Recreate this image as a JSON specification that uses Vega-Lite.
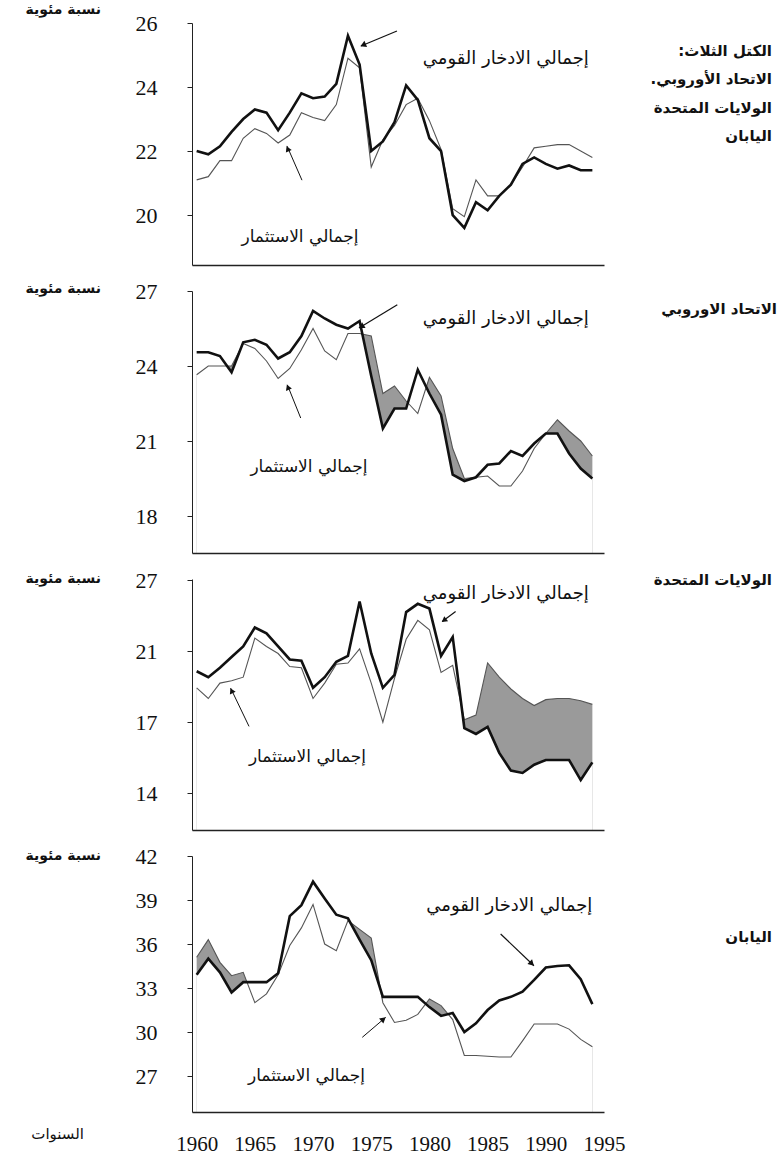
{
  "$schema": "https://vega.github.io/schema/vega-lite/v6.json",
  "background": "white",
  "padding": {"left": 25, "top": 2, "right": 0, "bottom": 0},
  "spacing": 26,
  "bounds": "flush",
  "config": {"view": {"stroke": null}, "axis": {"grid": false}},
  "datasets": {
    "triad": [
      {"year": 1960, "savings": 22.0, "investment": 21.1},
      {"year": 1961, "savings": 21.9, "investment": 21.2},
      {"year": 1962, "savings": 22.15, "investment": 21.7},
      {"year": 1963, "savings": 22.6, "investment": 21.7},
      {"year": 1964, "savings": 23.0, "investment": 22.4},
      {"year": 1965, "savings": 23.3, "investment": 22.7},
      {"year": 1966, "savings": 23.2, "investment": 22.55},
      {"year": 1967, "savings": 22.65, "investment": 22.25},
      {"year": 1968, "savings": 23.2, "investment": 22.5},
      {"year": 1969, "savings": 23.8, "investment": 23.2},
      {"year": 1970, "savings": 23.65, "investment": 23.05},
      {"year": 1971, "savings": 23.7, "investment": 22.95},
      {"year": 1972, "savings": 24.1, "investment": 23.45},
      {"year": 1973, "savings": 25.6, "investment": 24.9},
      {"year": 1974, "savings": 24.7, "investment": 24.6},
      {"year": 1975, "savings": 22.0, "investment": 21.5},
      {"year": 1976, "savings": 22.3, "investment": 22.35},
      {"year": 1977, "savings": 22.9, "investment": 22.8},
      {"year": 1978, "savings": 24.05, "investment": 23.45},
      {"year": 1979, "savings": 23.6, "investment": 23.65},
      {"year": 1980, "savings": 22.4, "investment": 22.95},
      {"year": 1981, "savings": 22.0, "investment": 22.05},
      {"year": 1982, "savings": 20.0, "investment": 20.2},
      {"year": 1983, "savings": 19.6, "investment": 19.95},
      {"year": 1984, "savings": 20.4, "investment": 21.1},
      {"year": 1985, "savings": 20.15, "investment": 20.6},
      {"year": 1986, "savings": 20.6, "investment": 20.6},
      {"year": 1987, "savings": 20.95, "investment": 20.95},
      {"year": 1988, "savings": 21.6, "investment": 21.5},
      {"year": 1989, "savings": 21.8, "investment": 22.1},
      {"year": 1990, "savings": 21.6, "investment": 22.15},
      {"year": 1991, "savings": 21.45, "investment": 22.2},
      {"year": 1992, "savings": 21.55, "investment": 22.2},
      {"year": 1993, "savings": 21.4, "investment": 22.0},
      {"year": 1994, "savings": 21.4, "investment": 21.8}
    ],
    "eu": [
      {"year": 1960, "savings": 24.55, "investment": 23.65},
      {"year": 1961, "savings": 24.55, "investment": 24.0},
      {"year": 1962, "savings": 24.4, "investment": 24.0},
      {"year": 1963, "savings": 23.75, "investment": 24.0},
      {"year": 1964, "savings": 24.95, "investment": 24.9},
      {"year": 1965, "savings": 25.05, "investment": 24.7},
      {"year": 1966, "savings": 24.85, "investment": 24.2},
      {"year": 1967, "savings": 24.3, "investment": 23.5},
      {"year": 1968, "savings": 24.55, "investment": 23.9},
      {"year": 1969, "savings": 25.2, "investment": 24.65},
      {"year": 1970, "savings": 26.2, "investment": 25.5},
      {"year": 1971, "savings": 25.9, "investment": 24.6},
      {"year": 1972, "savings": 25.65, "investment": 24.25},
      {"year": 1973, "savings": 25.5, "investment": 25.3},
      {"year": 1974, "savings": 25.8, "investment": 25.3},
      {"year": 1975, "savings": 23.6, "investment": 25.2},
      {"year": 1976, "savings": 21.5, "investment": 22.9},
      {"year": 1977, "savings": 22.3, "investment": 23.2},
      {"year": 1978, "savings": 22.3, "investment": 22.6},
      {"year": 1979, "savings": 23.85, "investment": 22.1},
      {"year": 1980, "savings": 22.9, "investment": 23.55},
      {"year": 1981, "savings": 22.05, "investment": 22.8},
      {"year": 1982, "savings": 19.65, "investment": 20.7},
      {"year": 1983, "savings": 19.4, "investment": 19.5},
      {"year": 1984, "savings": 19.55, "investment": 19.55},
      {"year": 1985, "savings": 20.05, "investment": 19.6},
      {"year": 1986, "savings": 20.1, "investment": 19.2},
      {"year": 1987, "savings": 20.6, "investment": 19.2},
      {"year": 1988, "savings": 20.4, "investment": 19.8},
      {"year": 1989, "savings": 20.9, "investment": 20.7},
      {"year": 1990, "savings": 21.3, "investment": 21.3},
      {"year": 1991, "savings": 21.3, "investment": 21.85},
      {"year": 1992, "savings": 20.5, "investment": 21.4},
      {"year": 1993, "savings": 19.9, "investment": 21.0},
      {"year": 1994, "savings": 19.5, "investment": 20.4}
    ],
    "us": [
      {"year": 1960, "savings": 19.15, "investment": 18.45},
      {"year": 1961, "savings": 18.9, "investment": 18.0},
      {"year": 1962, "savings": 19.3, "investment": 18.65},
      {"year": 1963, "savings": 19.75, "investment": 18.75},
      {"year": 1964, "savings": 20.2, "investment": 18.9},
      {"year": 1965, "savings": 21.0, "investment": 20.55},
      {"year": 1966, "savings": 20.75, "investment": 20.2},
      {"year": 1967, "savings": 20.2, "investment": 19.9},
      {"year": 1968, "savings": 19.65, "investment": 19.35},
      {"year": 1969, "savings": 19.6, "investment": 19.3},
      {"year": 1970, "savings": 18.45, "investment": 18.0},
      {"year": 1971, "savings": 18.9, "investment": 18.65},
      {"year": 1972, "savings": 19.55, "investment": 19.45},
      {"year": 1973, "savings": 19.8, "investment": 19.5},
      {"year": 1974, "savings": 22.1, "investment": 20.1},
      {"year": 1975, "savings": 19.9, "investment": 18.65},
      {"year": 1976, "savings": 18.45, "investment": 17.0},
      {"year": 1977, "savings": 19.0, "investment": 18.85},
      {"year": 1978, "savings": 21.65, "investment": 20.5},
      {"year": 1979, "savings": 22.0, "investment": 21.3},
      {"year": 1980, "savings": 21.8, "investment": 20.9},
      {"year": 1981, "savings": 19.8, "investment": 19.1},
      {"year": 1982, "savings": 20.6, "investment": 19.4},
      {"year": 1983, "savings": 16.75, "investment": 17.1},
      {"year": 1984, "savings": 16.5, "investment": 17.3},
      {"year": 1985, "savings": 16.8, "investment": 19.5},
      {"year": 1986, "savings": 15.7, "investment": 18.9},
      {"year": 1987, "savings": 14.95, "investment": 18.4},
      {"year": 1988, "savings": 14.85, "investment": 18.0},
      {"year": 1989, "savings": 15.2, "investment": 17.7},
      {"year": 1990, "savings": 15.4, "investment": 17.95},
      {"year": 1991, "savings": 15.4, "investment": 18.0},
      {"year": 1992, "savings": 15.4, "investment": 18.0},
      {"year": 1993, "savings": 14.55, "investment": 17.9},
      {"year": 1994, "savings": 15.3, "investment": 17.75}
    ],
    "japan": [
      {"year": 1960, "savings": 33.9, "investment": 35.1},
      {"year": 1961, "savings": 35.0, "investment": 36.3},
      {"year": 1962, "savings": 34.07, "investment": 34.75},
      {"year": 1963, "savings": 32.7, "investment": 33.84},
      {"year": 1964, "savings": 33.4, "investment": 34.07},
      {"year": 1965, "savings": 33.4, "investment": 32.0},
      {"year": 1966, "savings": 33.4, "investment": 32.6},
      {"year": 1967, "savings": 34.0, "investment": 33.9},
      {"year": 1968, "savings": 37.9, "investment": 35.9},
      {"year": 1969, "savings": 38.65, "investment": 37.1},
      {"year": 1970, "savings": 40.25, "investment": 38.7},
      {"year": 1971, "savings": 39.1, "investment": 36.0},
      {"year": 1972, "savings": 38.0, "investment": 35.55},
      {"year": 1973, "savings": 37.75, "investment": 37.6},
      {"year": 1974, "savings": 36.3, "investment": 37.0},
      {"year": 1975, "savings": 34.9, "investment": 36.4},
      {"year": 1976, "savings": 32.4, "investment": 32.0},
      {"year": 1977, "savings": 32.4, "investment": 30.65},
      {"year": 1978, "savings": 32.4, "investment": 30.8},
      {"year": 1979, "savings": 32.4, "investment": 31.2},
      {"year": 1980, "savings": 31.7, "investment": 32.25},
      {"year": 1981, "savings": 31.1, "investment": 31.8},
      {"year": 1982, "savings": 31.3, "investment": 30.85},
      {"year": 1983, "savings": 30.0, "investment": 28.4},
      {"year": 1984, "savings": 30.6, "investment": 28.4},
      {"year": 1985, "savings": 31.5, "investment": 28.35},
      {"year": 1986, "savings": 32.15, "investment": 28.3},
      {"year": 1987, "savings": 32.4, "investment": 28.3},
      {"year": 1988, "savings": 32.75, "investment": 29.4},
      {"year": 1989, "savings": 33.55, "investment": 30.55},
      {"year": 1990, "savings": 34.4, "investment": 30.55},
      {"year": 1991, "savings": 34.5, "investment": 30.55},
      {"year": 1992, "savings": 34.55, "investment": 30.2},
      {"year": 1993, "savings": 33.6, "investment": 29.5},
      {"year": 1994, "savings": 31.9, "investment": 29.0}
    ]
  },
  "vconcat": [
    {
      "width": 412, "height": 242,
      "data": {"name": "triad"},
      "layer": [
        {"mark": {"type": "line", "color": "#555", "strokeWidth": 1.1},
         "encoding": {
           "x": {"field": "year", "type": "quantitative", "scale": {"domain": [1959.6, 1995], "nice": false, "zero": false},
                 "axis": {"values": [1960,1965,1970,1975,1980,1985,1990,1995], "labels": false, "ticks": false, "domainColor": "#222", "domainWidth": 1.3, "title": null, "zindex": 1}},
           "y": {"field": "investment", "type": "quantitative", "scale": {"domain": [18.44, 26], "nice": false, "zero": false},
                 "axis": {"values": [20,22,24,26], "tickSize": 5, "labelPadding": 30, "labelFont": "Liberation Serif", "labelFontSize": 22, "labelColor": "#111", "labelOverlap": false, "domainColor": "#222", "tickColor": "#222", "title": null, "zindex": 1}}
         }},
        {"mark": {"type": "line", "color": "#111", "strokeWidth": 2.6},
         "encoding": {"x": {"field": "year", "type": "quantitative"}, "y": {"field": "savings", "type": "quantitative"}}},
        {"data": {"values": [{}]}, "mark": {"type": "text", "text": "إجمالي الادخار القومي", "align": "right", "baseline": "middle", "fontSize": 18, "font": "DejaVu Sans", "color": "#111"},
         "encoding": {"x": {"datum": 1993.7}, "y": {"datum": 24.88}}},
        {"data": {"values": [{}]}, "mark": {"type": "rule", "color": "#111", "strokeWidth": 1.2},
         "encoding": {"x": {"datum": 1977.21}, "y": {"datum": 25.75}, "x2": {"datum": 1974.12}, "y2": {"datum": 25.28}}},
        {"data": {"values": [{}]}, "mark": {"type": "point", "shape": "triangle-up", "filled": true, "size": 45, "angle": 247, "color": "#111", "opacity": 1},
         "encoding": {"x": {"datum": 1974.3}, "y": {"datum": 25.31}}},
        {"data": {"values": [{}]}, "mark": {"type": "text", "text": "إجمالي الاستثمار", "align": "center", "baseline": "middle", "fontSize": 17, "font": "DejaVu Sans", "color": "#111"},
         "encoding": {"x": {"datum": 1968.88}, "y": {"datum": 19.31}}},
        {"data": {"values": [{}]}, "mark": {"type": "rule", "color": "#111", "strokeWidth": 1},
         "encoding": {"x": {"datum": 1969.05}, "y": {"datum": 21.09}, "x2": {"datum": 1967.76}, "y2": {"datum": 22.16}}},
        {"data": {"values": [{}]}, "mark": {"type": "point", "shape": "triangle-up", "filled": true, "size": 40, "angle": 336, "color": "#111", "opacity": 1},
         "encoding": {"x": {"datum": 1967.82}, "y": {"datum": 22.07}}},
        {"data": {"values": [{}]}, "mark": {"type": "text", "text": ["الكتل الثلاث:\u200f", "الاتحاد الأوروبي.\u200f", "الولايات المتحدة", "اليابان"], "align": "right", "baseline": "top", "lineHeight": 28.5, "fontSize": 15, "fontWeight": "bold", "font": "DejaVu Sans", "color": "#111"},
         "encoding": {"x": {"datum": 2009.43}, "y": {"datum": 25.35}}},
        {"data": {"values": [{}]}, "mark": {"type": "text", "text": "نسبة مئوية", "align": "right", "baseline": "middle", "fontSize": 14, "fontWeight": "bold", "font": "DejaVu Sans", "color": "#111"},
         "encoding": {"x": {"datum": 1951.78}, "y": {"datum": 26.42}}}
      ]
    },
    {
      "width": 412, "height": 262,
      "data": {"name": "eu"},
      "layer": [
        {"mark": {"type": "area", "color": "#9a9a9a", "opacity": 1},
         "encoding": {
           "x": {"field": "year", "type": "quantitative", "scale": {"domain": [1959.6, 1995], "nice": false, "zero": false},
                 "axis": {"values": [1960,1965,1970,1975,1980,1985,1990,1995], "labels": false, "ticks": false, "domainColor": "#222", "domainWidth": 1.3, "title": null, "zindex": 1}},
           "y": {"field": "investment", "type": "quantitative", "scale": {"domain": [16.52, 27], "nice": false, "zero": false},
                 "axis": {"values": [18,21,24,27], "tickSize": 5, "labelPadding": 30, "labelFont": "Liberation Serif", "labelFontSize": 22, "labelColor": "#111", "labelOverlap": false, "domainColor": "#222", "tickColor": "#222", "title": null, "zindex": 1}},
           "y2": {"datum": 16.52}
         }},
        {"mark": {"type": "area", "color": "white", "opacity": 1},
         "encoding": {"x": {"field": "year", "type": "quantitative"}, "y": {"field": "savings", "type": "quantitative"}, "y2": {"datum": 16.52}}},
        {"mark": {"type": "line", "color": "#555", "strokeWidth": 1.1},
         "encoding": {"x": {"field": "year", "type": "quantitative"}, "y": {"field": "investment", "type": "quantitative"}}},
        {"mark": {"type": "line", "color": "#111", "strokeWidth": 2.6},
         "encoding": {"x": {"field": "year", "type": "quantitative"}, "y": {"field": "savings", "type": "quantitative"}}},
        {"data": {"values": [{}]}, "mark": {"type": "text", "text": "إجمالي الادخار القومي", "align": "right", "baseline": "middle", "fontSize": 18, "font": "DejaVu Sans", "color": "#111"},
         "encoding": {"x": {"datum": 1993.7}, "y": {"datum": 25.88}}},
        {"data": {"values": [{}]}, "mark": {"type": "rule", "color": "#111", "strokeWidth": 1.2},
         "encoding": {"x": {"datum": 1977.24}, "y": {"datum": 26.45}, "x2": {"datum": 1973.95}, "y2": {"datum": 25.52}}},
        {"data": {"values": [{}]}, "mark": {"type": "point", "shape": "triangle-up", "filled": true, "size": 45, "angle": 239, "color": "#111", "opacity": 1},
         "encoding": {"x": {"datum": 1974.15}, "y": {"datum": 25.58}}},
        {"data": {"values": [{}]}, "mark": {"type": "text", "text": "إجمالي الاستثمار", "align": "center", "baseline": "middle", "fontSize": 17, "font": "DejaVu Sans", "color": "#111"},
         "encoding": {"x": {"datum": 1969.65}, "y": {"datum": 19.96}}},
        {"data": {"values": [{}]}, "mark": {"type": "rule", "color": "#111", "strokeWidth": 1},
         "encoding": {"x": {"datum": 1968.94}, "y": {"datum": 21.92}, "x2": {"datum": 1967.79}, "y2": {"datum": 23.25}}},
        {"data": {"values": [{}]}, "mark": {"type": "point", "shape": "triangle-up", "filled": true, "size": 40, "angle": 338, "color": "#111", "opacity": 1},
         "encoding": {"x": {"datum": 1967.84}, "y": {"datum": 23.15}}},
        {"data": {"values": [{}]}, "mark": {"type": "text", "text": "الاتحاد الاوروبي", "align": "right", "baseline": "middle", "fontSize": 15, "fontWeight": "bold", "font": "DejaVu Sans", "color": "#111"},
         "encoding": {"x": {"datum": 2009.86}, "y": {"datum": 26.28}}},
        {"data": {"values": [{}]}, "mark": {"type": "text", "text": "نسبة مئوية", "align": "right", "baseline": "middle", "fontSize": 14, "fontWeight": "bold", "font": "DejaVu Sans", "color": "#111"},
         "encoding": {"x": {"datum": 1951.78}, "y": {"datum": 27.08}}}
      ]
    },
    {
      "width": 412, "height": 251,
      "data": {"name": "us"},
      "layer": [
        {"mark": {"type": "area", "color": "#9a9a9a", "opacity": 1},
         "encoding": {
           "x": {"field": "year", "type": "quantitative", "scale": {"domain": [1959.6, 1995], "nice": false, "zero": false},
                 "axis": {"values": [1960,1965,1970,1975,1980,1985,1990,1995], "labels": false, "ticks": false, "domainColor": "#222", "domainWidth": 1.3, "title": null, "zindex": 1}},
           "y": {"field": "investment", "type": "quantitative", "scale": {"domain": [12.44, 23.05], "nice": false, "zero": false},
                 "axis": {"values": [14,17,20,23], "labelExpr": "datum.value == 23 ? '27' : datum.value == 20 ? '21' : datum.label", "tickSize": 5, "labelPadding": 30, "labelFont": "Liberation Serif", "labelFontSize": 22, "labelColor": "#111", "labelOverlap": false, "domainColor": "#222", "tickColor": "#222", "title": null, "zindex": 1}},
           "y2": {"datum": 12.44}
         }},
        {"mark": {"type": "area", "color": "white", "opacity": 1},
         "encoding": {"x": {"field": "year", "type": "quantitative"}, "y": {"field": "savings", "type": "quantitative"}, "y2": {"datum": 12.44}}},
        {"mark": {"type": "line", "color": "#555", "strokeWidth": 1.1},
         "encoding": {"x": {"field": "year", "type": "quantitative"}, "y": {"field": "investment", "type": "quantitative"}}},
        {"mark": {"type": "line", "color": "#111", "strokeWidth": 2.6},
         "encoding": {"x": {"field": "year", "type": "quantitative"}, "y": {"field": "savings", "type": "quantitative"}}},
        {"data": {"values": [{}]}, "mark": {"type": "text", "text": "إجمالي الادخار القومي", "align": "right", "baseline": "middle", "fontSize": 18, "font": "DejaVu Sans", "color": "#111"},
         "encoding": {"x": {"datum": 1993.7}, "y": {"datum": 22.41}}},
        {"data": {"values": [{}]}, "mark": {"type": "rule", "color": "#111", "strokeWidth": 1.2},
         "encoding": {"x": {"datum": 1982.25}, "y": {"datum": 21.68}, "x2": {"datum": 1981.1}, "y2": {"datum": 21.25}}},
        {"data": {"values": [{}]}, "mark": {"type": "point", "shape": "triangle-up", "filled": true, "size": 40, "angle": 233, "color": "#111", "opacity": 1},
         "encoding": {"x": {"datum": 1981.25}, "y": {"datum": 21.3}}},
        {"data": {"values": [{}]}, "mark": {"type": "text", "text": "إجمالي الاستثمار", "align": "center", "baseline": "middle", "fontSize": 17, "font": "DejaVu Sans", "color": "#111"},
         "encoding": {"x": {"datum": 1969.52}, "y": {"datum": 15.54}}},
        {"data": {"values": [{}]}, "mark": {"type": "rule", "color": "#111", "strokeWidth": 1},
         "encoding": {"x": {"datum": 1964.5}, "y": {"datum": 16.82}, "x2": {"datum": 1962.92}, "y2": {"datum": 18.44}}},
        {"data": {"values": [{}]}, "mark": {"type": "point", "shape": "triangle-up", "filled": true, "size": 40, "angle": 334, "color": "#111", "opacity": 1},
         "encoding": {"x": {"datum": 1963.0}, "y": {"datum": 18.33}}},
        {"data": {"values": [{}]}, "mark": {"type": "text", "text": "الولايات المتحدة", "align": "right", "baseline": "middle", "fontSize": 15, "fontWeight": "bold", "font": "DejaVu Sans", "color": "#111"},
         "encoding": {"x": {"datum": 2009.43}, "y": {"datum": 23.0}}},
        {"data": {"values": [{}]}, "mark": {"type": "text", "text": "نسبة مئوية", "align": "right", "baseline": "middle", "fontSize": 14, "fontWeight": "bold", "font": "DejaVu Sans", "color": "#111"},
         "encoding": {"x": {"datum": 1951.78}, "y": {"datum": 23.04}}}
      ]
    },
    {
      "width": 412, "height": 256,
      "data": {"name": "japan"},
      "layer": [
        {"mark": {"type": "area", "color": "#9a9a9a", "opacity": 1},
         "encoding": {
           "x": {"field": "year", "type": "quantitative", "scale": {"domain": [1959.6, 1995], "nice": false, "zero": false},
                 "axis": {"values": [1960,1965,1970,1975,1980,1985,1990,1995], "format": "d", "labelFlush": false, "labelBound": false, "labelOverlap": false, "ticks": false, "labelPadding": 21, "labelFont": "Liberation Serif", "labelFontSize": 21, "labelColor": "#111", "domainColor": "#222", "domainWidth": 1.3, "title": null, "zindex": 1}},
           "y": {"field": "investment", "type": "quantitative", "scale": {"domain": [24.55, 42], "nice": false, "zero": false},
                 "axis": {"values": [27,30,33,36,39,42], "tickSize": 5, "labelPadding": 30, "labelFont": "Liberation Serif", "labelFontSize": 22, "labelColor": "#111", "labelOverlap": false, "domainColor": "#222", "tickColor": "#222", "title": null, "zindex": 1}},
           "y2": {"datum": 24.55}
         }},
        {"mark": {"type": "area", "color": "white", "opacity": 1},
         "encoding": {"x": {"field": "year", "type": "quantitative"}, "y": {"field": "savings", "type": "quantitative"}, "y2": {"datum": 24.55}}},
        {"mark": {"type": "line", "color": "#555", "strokeWidth": 1.1},
         "encoding": {"x": {"field": "year", "type": "quantitative"}, "y": {"field": "investment", "type": "quantitative"}}},
        {"mark": {"type": "line", "color": "#111", "strokeWidth": 2.6},
         "encoding": {"x": {"field": "year", "type": "quantitative"}, "y": {"field": "savings", "type": "quantitative"}}},
        {"data": {"values": [{}]}, "mark": {"type": "text", "text": "إجمالي الادخار القومي", "align": "right", "baseline": "middle", "fontSize": 18, "font": "DejaVu Sans", "color": "#111"},
         "encoding": {"x": {"datum": 1994.0}, "y": {"datum": 38.59}}},
        {"data": {"values": [{}]}, "mark": {"type": "rule", "color": "#111", "strokeWidth": 1.2},
         "encoding": {"x": {"datum": 1986.12}, "y": {"datum": 36.68}, "x2": {"datum": 1988.98}, "y2": {"datum": 34.52}}},
        {"data": {"values": [{}]}, "mark": {"type": "point", "shape": "triangle-up", "filled": true, "size": 45, "angle": 134, "color": "#111", "opacity": 1},
         "encoding": {"x": {"datum": 1988.8}, "y": {"datum": 34.66}}},
        {"data": {"values": [{}]}, "mark": {"type": "text", "text": "إجمالي الاستثمار", "align": "center", "baseline": "middle", "fontSize": 17, "font": "DejaVu Sans", "color": "#111"},
         "encoding": {"x": {"datum": 1969.44}, "y": {"datum": 27.0}}},
        {"data": {"values": [{}]}, "mark": {"type": "rule", "color": "#111", "strokeWidth": 1},
         "encoding": {"x": {"datum": 1974.23}, "y": {"datum": 29.64}, "x2": {"datum": 1976.24}, "y2": {"datum": 31.0}}},
        {"data": {"values": [{}]}, "mark": {"type": "point", "shape": "triangle-up", "filled": true, "size": 45, "angle": 50, "color": "#111", "opacity": 1},
         "encoding": {"x": {"datum": 1976.05}, "y": {"datum": 30.88}}},
        {"data": {"values": [{}]}, "mark": {"type": "text", "text": "اليابان", "align": "right", "baseline": "middle", "fontSize": 15, "fontWeight": "bold", "font": "DejaVu Sans", "color": "#111"},
         "encoding": {"x": {"datum": 2009.43}, "y": {"datum": 36.5}}},
        {"data": {"values": [{}]}, "mark": {"type": "text", "text": "نسبة مئوية", "align": "right", "baseline": "middle", "fontSize": 14, "fontWeight": "bold", "font": "DejaVu Sans", "color": "#111"},
         "encoding": {"x": {"datum": 1951.78}, "y": {"datum": 42.0}}},
        {"data": {"values": [{}]}, "mark": {"type": "text", "text": "السنوات", "align": "right", "baseline": "middle", "fontSize": 15, "font": "DejaVu Sans", "color": "#111"},
         "encoding": {"x": {"datum": 1950.32}, "y": {"datum": 23.05}}}
      ]
    }
  ]
}
